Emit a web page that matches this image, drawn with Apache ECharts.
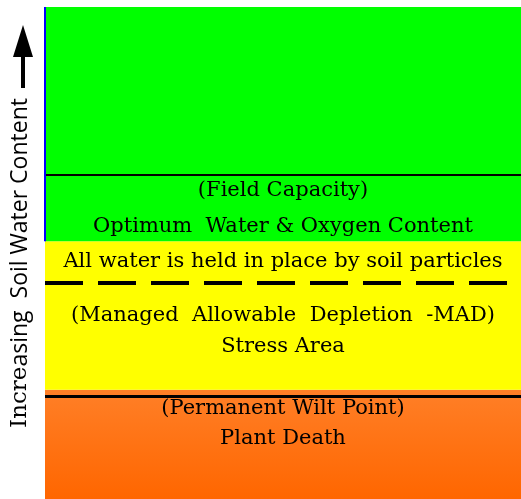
<!DOCTYPE html>
<html>
<head>
<meta charset="utf-8">
<script src="https://cdn.jsdelivr.net/npm/echarts@6/dist/echarts.min.js"></script>
<style>html,body{margin:0;padding:0;background:#fff}#c{width:521px;height:499px}</style>
</head>
<body>
<div id="c"></div>
<script>
// Zone boundaries on a 0-100 "soil water content" scale (bottom to top)
const zoneNames = ['Plant Death', 'Stress Area', 'Optimum'];
const zoneLower = [0, 22.2, 52.4];
const zoneUpper = [22.2, 52.4, 100];
// Horizontal reference lines
const lineNames = ['Field Capacity', 'MAD', 'Permanent Wilt Point'];
const lineLevels = [65.9, 43.9, 20.9];
// Text annotations
const labelTexts = [
  '(Field Capacity)',
  'Optimum  Water & Oxygen Content',
  'All water is held in place by soil particles',
  '(Managed  Allowable  Depletion  -MAD)',
  'Stress Area',
  '(Permanent Wilt Point)',
  'Plant Death'
];
const labelLevels = [62.6, 55.4, 48.2, 37.3, 30.9, 18.4, 12.2];
const labelX = 50;
// Left wall (blue) spans the optimum zone
const wallRange = [52.4, 100];

const chart = echarts.init(document.getElementById('c'));
const zoneColors = [
  {type:'linear',x:0,y:0,x2:0,y2:1,colorStops:[{offset:0,color:'#FF7F27'},{offset:1,color:'#FF6600'}]},
  '#FFFF00',
  '#00FF00'
];
const lineStyles = [
  {color:'#000', width:2, type:'solid'},
  {color:'#000', width:4, type:[38,15]},
  {color:'#000', width:3, type:'solid'}
];
const serif = 'DejaVu Serif';
chart.setOption({
  animation:false,
  grid:{left:45, right:0, top:7, bottom:0, containLabel:false, outerBoundsMode:'none'},
  xAxis:{type:'value', min:0, max:100, show:false},
  yAxis:{
    type:'value', min:0, max:100,
    axisLine:{show:false}, axisTick:{show:false}, axisLabel:{show:false}, splitLine:{show:false},
    name:'{a|Incre}{b|asing  Soil Water Content}',
    nameLocation:'middle', nameRotate:90, nameGap:13,
    nameTextStyle:{
      padding:[0,20,0,0],
      rich:{
        a:{fontFamily:serif, fontSize:23, color:'#000'},
        b:{fontFamily:'Open Sans', fontSize:23, color:'#000'}
      }
    }
  },
  series:[
    {
      type:'line', data:[], silent:true,
      markArea:{
        silent:true,
        data: zoneLower.map((lo,i)=>[
          {yAxis:lo, xAxis:0, itemStyle:{color:zoneColors[i]}, name:zoneNames[i]},
          {yAxis:zoneUpper[i], xAxis:100}
        ]),
        label:{show:false}
      },
      markLine:{
        silent:true, symbol:'none', label:{show:false},
        data: lineLevels.map((v,i)=>({yAxis:v, name:lineNames[i], lineStyle:lineStyles[i]}))
          .concat([[{coord:[0,wallRange[0]], lineStyle:{color:'#0000FF', width:2, type:'solid'}},{coord:[0,wallRange[1]]}]])
      }
    },
    {
      type:'scatter', symbolSize:0, silent:true, z:5,
      data: labelTexts.map((t,i)=>({value:[labelX, labelLevels[i]], name:t})),
      label:{
        show:true, position:'inside', formatter:p=>p.name,
        fontFamily:serif, fontSize:21, color:'#000', textBorderWidth:0, opacity:1
      }
    }
  ],
  graphic:[
    {type:'polygon', shape:{points:[[23,25],[13,57],[33,57]]}, style:{fill:'#000'}},
    {type:'rect', shape:{x:21, y:56, width:4, height:32}, style:{fill:'#000'}}
  ]
});
</script>
</body>
</html>
